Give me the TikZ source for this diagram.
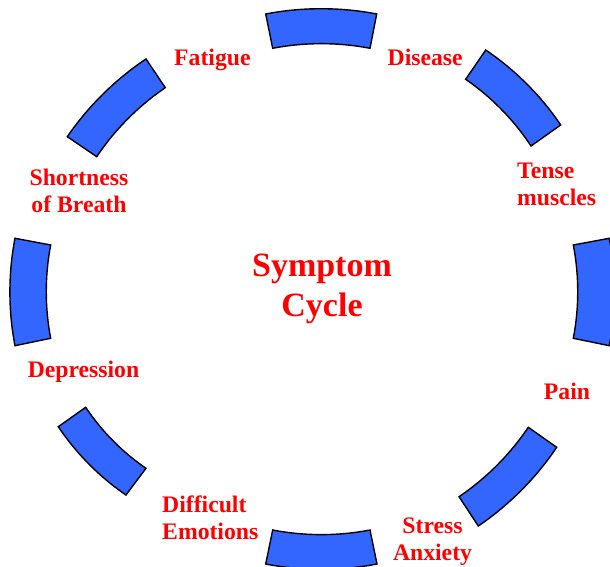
\documentclass[tikz,border=0pt]{standalone}
\usepackage{fontspec}
\setmainfont{Liberation Serif}
\usetikzlibrary{positioning}
\definecolor{segblue}{HTML}{3366FF}
\definecolor{lblred}{HTML}{FF0000}

\begin{document}
\begin{tikzpicture}[x=1pt,y=1pt,
 seg/.style={draw=black,line width=1.4pt,fill=segblue,bend angle=11,looseness=0.85},
 lbl/.style={text=lblred,font=\fontsize{23.7}{27}\selectfont\bfseries,inner sep=0pt},
 ttl/.style={text=lblred,font=\fontsize{34}{40}\selectfont\bfseries,inner sep=0pt,align=center}]
\useasboundingbox (0,0) rectangle (610,567);
% ring segments, clockwise from the top
\draw[seg] (265.7,553) to[bend left] (376.7,553) -- (370,518.7) to[bend right] (272.7,518.7) -- cycle;
\draw[seg] (485.7,517) to[bend left] (560.7,442) -- (531,421) to[bend right] (465.7,487.7) -- cycle;
\draw[seg] (609.3,328.7) to[bend left] (609.3,221.3) -- (573.3,228.7) to[bend right] (573.3,322) -- cycle;
\draw[seg] (556.7,119.7) to[bend left] (478.3,41) -- (459,70.3) to[bend right] (528.3,139.7) -- cycle;
\draw[seg] (377,3) to[bend left] (265.7,3) -- (272.7,37) to[bend right] (370,37) -- cycle;
\draw[seg] (126,72) to[bend left] (58.3,140.3) -- (85.7,159.7) to[bend right] (146,98.7) -- cycle;
\draw[seg] (15,221.3) to[bend left] (15,328.7) -- (50.7,322) to[bend right] (50.7,228.7) -- cycle;
\draw[seg] (67.3,430.3) to[bend left] (146,508) -- (165.3,479.3) to[bend right] (96.7,410.3) -- cycle;
% labels
\node[ttl] (title) at (322,278) {Symptom\\Cycle};
\node[lbl,anchor=base] (fatigue) at (212.4,501.3) {Fatigue};
\node[lbl,anchor=base] (disease) at (425.2,501.3) {Disease};
\node[lbl,align=left,anchor=west] (tense) at (517,383) {Tense\\muscles};
\node[lbl,anchor=base] (pain) at (567,167) {Pain};
\node[lbl,align=center] (stress) at (432.5,25) {Stress\\Anxiety};
\node[lbl,align=left,anchor=west] (difficult) at (162,49.5) {Difficult\\Emotions};
\node[lbl,anchor=base] (depression) at (83.5,189) {Depression};
\node[lbl,align=center] (breath) at (79,376.5) {Shortness\\of Breath};
\end{tikzpicture}
\end{document}
